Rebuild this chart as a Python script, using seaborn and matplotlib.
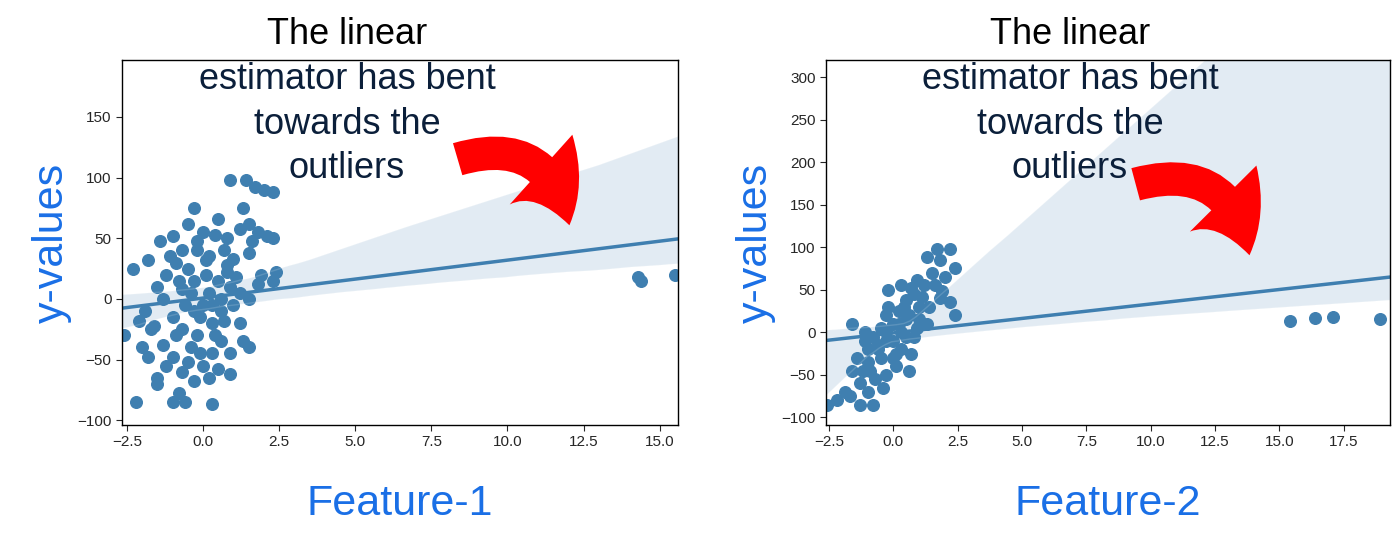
import matplotlib
matplotlib.use("Agg")
import matplotlib.pyplot as plt
from matplotlib.patches import FancyArrowPatch
import numpy as np
import pandas as pd
import seaborn as sns

# ---- data ----
f1_pts = [(0.9,98),(1.4,98),(1.7,92),(2.0,90),(2.3,88),(1.3,75),(-0.3,75),(1.2,58),(0.5,66),(-0.5,62),
          (0.0,55),(0.4,53),(0.8,50),(1.5,62),(1.8,55),(2.1,52),(2.3,50),(-1.0,52),(-1.4,48),(-1.8,32),
          (-2.3,25),(-0.7,40),(-0.9,30),(1.6,48),(-0.2,48),(0.7,40),(0.2,35),(1.0,33),(1.5,38),(0.8,28),
          (2.4,22),(2.3,15),(1.8,12),(-0.5,25),(-1.2,20),(-0.8,15),(-1.5,10),(-1.3,0),(-0.4,5),(0.1,20),
          (0.5,15),(0.9,10),(1.2,5),(1.5,0),(-1.9,-10),(-2.1,-18),(-1.6,-22),(-1.0,-15),(-0.3,-10),(0.3,-5),
          (0.7,-18),(1.2,-20),(1.5,-40),(-0.7,-25),(-0.2,-30),(0.4,-30),(-2.0,-40),(-1.3,-38),(-1.0,-48),(-0.5,-52),
          (0.3,-45),(0.9,-45),(-1.5,-65),(-0.7,-60),(-0.3,-68),(0.2,-65),(-0.8,-78),(-1.0,-85),(-0.6,-85),(0.3,-87),
          (-2.2,-85),(-1.5,-70),(-2.6,-30),(1.3,-35),(0.0,-5),(0.2,5),(-0.1,-15),(-0.6,-5),(-0.9,-30),(0.6,0),
          (0.8,22),(0.1,32),(-0.3,15),(-1.1,35),(0.3,-20),(0.6,-35),(-0.4,-40),(1.0,-5),(-1.7,-25),(-1.2,-55),
          (0.0,-55),(0.5,-58),(-0.2,40),(0.9,-62),(1.9,20),(-1.8,-48),(-0.1,-45),(0.6,-10),(1.1,18),(-0.7,8),
          (14.3,18),(14.4,15),(15.5,20),(16.0,13)]
f2_pts = [(2.2,98),(1.7,98),(1.3,88),(1.8,85),(2.4,75),(1.5,70),(0.9,62),(1.2,55),(0.7,52),(-0.2,50),
          (0.3,55),(0.8,45),(1.8,40),(2.2,35),(2.4,20),(1.4,30),(1.0,30),(0.5,38),(0.2,25),(-0.3,20),
          (0.0,10),(0.5,15),(1.0,15),(-0.5,5),(-0.8,-5),(-0.3,0),(0.3,0),(0.8,-5),(-1.1,-10),(-1.0,-20),
          (-0.6,-15),(0.0,-10),(0.3,-20),(0.7,-25),(-0.5,-30),(-1.0,-35),(-1.4,-30),(-1.2,-45),(-0.3,-50),(0.1,-40),
          (0.6,-45),(-1.3,-60),(-1.0,-70),(-1.7,-75),(-2.2,-80),(-2.6,-85),(-1.9,-70),(-0.8,-85),(-1.3,-85),(-0.4,-65),
          (-1.6,-45),(-1.6,10),(-0.3,-10),(0.2,10),(0.5,-5),(-0.7,-55),(0.4,30),(0.9,5),(1.3,10),(1.6,55),
          (2.0,65),(0.1,-25),(-1.1,0),(-0.2,30),(1.1,42),(-0.9,-45),(1.9,48),(0.6,20),(-0.6,-20),(0.0,-30),
          (15.4,13),(16.4,17),(17.1,18),(18.9,15)]

df1 = pd.DataFrame(f1_pts, columns=["x", "y"])
df2 = pd.DataFrame(f2_pts, columns=["x", "y"])

sns.set_style("white")
plt.rcParams["font.family"] = ["Liberation Sans", "DejaVu Sans"]

fig = plt.figure(figsize=(14, 5.47), dpi=100)
ax1 = fig.add_axes([122/1400, 1-425/547, 556/1400, 365/547])
ax2 = fig.add_axes([826/1400, 1-425/547, 564/1400, 365/547])

blue = "#1a6fe6"
navy = "#0b1f3a"
for ax, df, name, xlim, ylim, xt, yt in [
        (ax1, df1, "Feature-1", (-2.66, 15.6), (-104, 197), np.arange(-2.5, 16, 2.5), np.arange(-100, 151, 50)),
        (ax2, df2, "Feature-2", (-2.62, 19.3), (-109, 320), np.arange(-2.5, 18, 2.5), np.arange(-100, 301, 50))]:
    sns.regplot(data=df, x="x", y="y", ax=ax, color="#3f7fb0",
                scatter_kws={"s": 70, "alpha": 1}, line_kws={"lw": 2.5}, truncate=False)
    ax.set_xlim(*xlim)
    ax.set_ylim(*ylim)
    ax.set_xticks(xt)
    ax.set_yticks(yt)
    ax.tick_params(labelsize=11, length=4, left=True, bottom=True)
    ax.set_xlabel(name, fontsize=31, color=blue, labelpad=25)
    ax.set_ylabel("y-values", fontsize=31, color=blue, labelpad=4)
    for s in ax.spines.values():
        s.set_color("black")
        s.set_linewidth(1)

# annotations
for cx, top in [(347, 35), (1070, 35)]:
    lines = ["The linear", "estimator has bent", "towards the", "outliers"]
    for i, t in enumerate(lines):
        fig.text(cx/1400, 1-(top+i*44.5)/547, t, ha="center", va="center",
                 fontsize=26, color="black" if i == 0 else navy)

for a, b in [((455, 160), (570, 228)), ((1133, 185), (1250, 258))]:
    arr = FancyArrowPatch((a[0]/1400, 1-a[1]/547), (b[0]/1400, 1-b[1]/547),
                          transform=fig.transFigure, connectionstyle="arc3,rad=-0.55",
                          arrowstyle="simple,head_width=4.5,head_length=3,tail_width=1.6",
                          mutation_scale=15, color="#ff0000", lw=0)
    fig.patches.append(arr)

fig.savefig("out.png", dpi=100)
